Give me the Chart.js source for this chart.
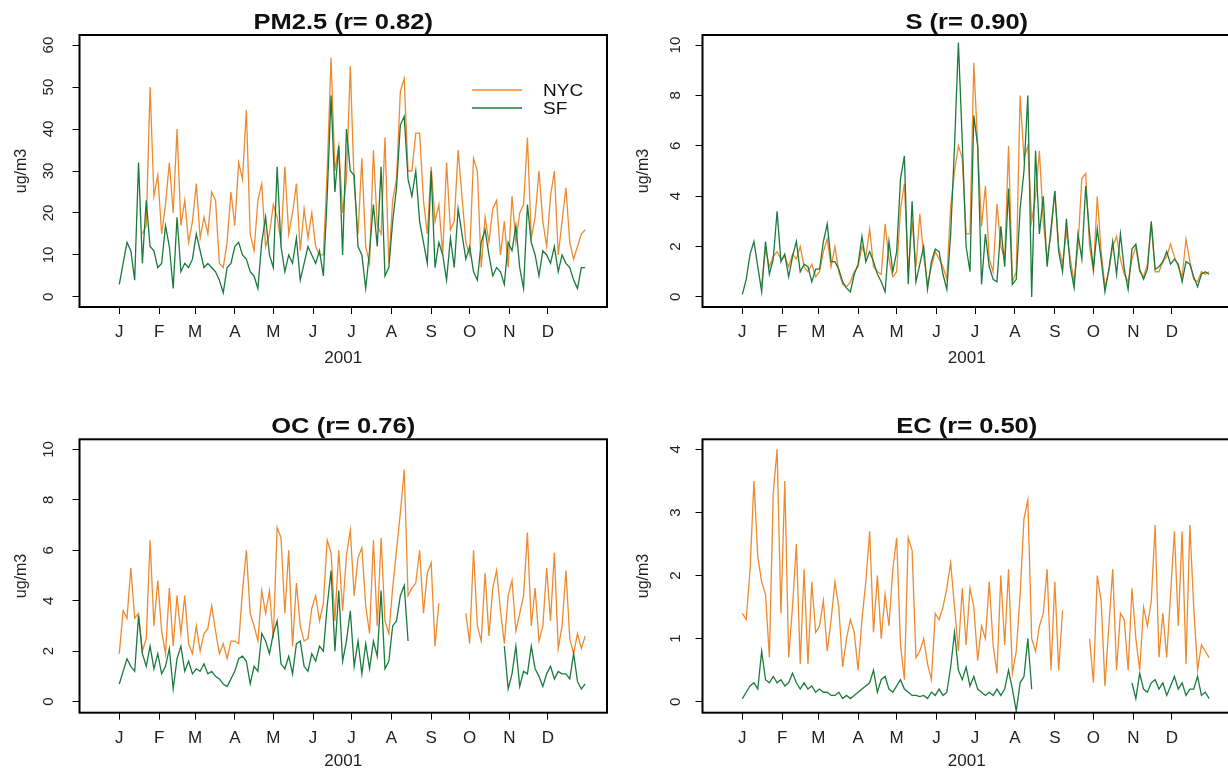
<!DOCTYPE html>
<html>
<head>
<meta charset="utf-8">
<title>NYC vs SF daily concentrations, 2001</title>
<script src="https://cdn.jsdelivr.net/npm/chart.js@4.4.1/dist/chart.umd.min.js"></script>
<style>
  html, body { margin: 0; padding: 0; background: #fff; overflow: hidden; }
  body { width: 1228px; height: 772px; position: relative; }
  canvas { position: absolute; }
</style>
</head>
<body>
<canvas id="pmChart" width="614" height="386" style="left:0;top:0"></canvas>
<canvas id="sChart" width="620" height="386" style="left:614px;top:0"></canvas>
<canvas id="ocChart" width="614" height="386" style="left:0;top:386px"></canvas>
<canvas id="ecChart" width="620" height="386" style="left:614px;top:386px"></canvas>
<script>
// month axis
const monthStarts = [0, 31, 59, 90, 120, 151, 181, 212, 243, 273, 304, 334];
const monthLetters = ['J', 'F', 'M', 'A', 'M', 'J', 'J', 'A', 'S', 'O', 'N', 'D'];

// values every 3rd day of 2001 (day 0, 3, 6 ... 363), ug/m3
const pm25Nyc = [
  null, null, null, null, null, null, 15, 17, 50, 24, 29,
  15, 22, 32, 20, 40, 17, 23, 13, 18,
  27, 14, 19, 15, 25, 23, 8, 7, 13, 25,
  17, 32, 28, 44.5, 15, 11, 23, 27, 12, 15,
  22, 19, 13, 31, 15, 20, 27, 11, 21, 14, 20,
  12, 10, 10, 30, 57, 30, 36, 20, 28, 55,
  27, 15, 33, 12, 8, 35, 17, 15, 38, 8,
  23, 28, 49, 52, 30, 30, 39, 39, 23, 15,
  31, 18, 22, 10, 32, 16, 18, 35, 24, 13,
  10, 33, 30, 7, 19, 13, 21, 23, 10, 18, 7,
  24, 13, 20, 22, 38, 14, 19, 30, 18, 12,
  24, 30, 10, 18, 26, 13, 9, 12, 15, 16
];
const pm25Sf = [
  3, 8, 13, 11, 4, 32, 8, 23, 12, 11, 7,
  8, 17, 12, 2, 19, 6, 8, 7, 9,
  15, 11, 7, 8, 7, 6, 4, 1, 7, 8,
  12, 13, 10, 9, 6, 5, 2, 13, 19, 10,
  7, 31, 12, 6, 10, 8, 14, 4, 8, 12, 10,
  8, 11, 5, 24, 48, 25, 36, 10, 40, 30,
  29, 12, 10, 2, 11, 22, 12, 31, 5, 7,
  18, 26, 41, 43, 28, 24, 30, 18, 13, 8,
  30, 7, 13, 10, 4, 14, 7, 21, 15, 9,
  12, 6, 4, 13, 16, 10, 5, 7, 6, 3, 13,
  11, 17, 7, 2, 22, 13, 10, 5, 11, 10,
  8, 12, 6, 10, 8, 7, 4, 2, 7, 7
];
const sNyc = [
  null, null, null, null, null, 0.5, 1.9, 1.2, 1.6, 1.8, 1.5,
  1.6, 1.2, 1.7, 1.5, 2.0, 1.2, 1.0, 1.3, 0.8,
  1.0, 1.8, 2.3, 1.2, 2.0, 1.0, 0.5, 0.4, 0.6, 1.0,
  1.2, 2.0, 1.6, 2.7, 1.2, 1.0, 0.9, 2.9, 1.5, 0.8,
  1.0, 3.5, 4.5, 1.0, 3.0, 1.2, 3.3, 1.6, 0.5, 1.2, 1.8,
  1.5, 1.2, 0.7, 3.6, 5.0, 6.0, 5.5, 2.5, 2.5, 9.3,
  6.0, 2.8, 4.4, 1.5, 1.0, 3.7, 2.0, 1.5, 6.0, 0.6,
  1.0, 8.0, 5.5, 6.0, 3.0, 4.0, 5.8, 3.0, 1.5, 2.5,
  4.2, 2.0, 1.3, 2.6, 1.5, 0.6, 2.0, 4.7, 4.9, 2.0,
  1.0, 4.0, 1.8, 0.4, 1.0, 2.0, 2.4, 1.5, 0.9, 0.6, 1.5,
  2.0, 1.0, 0.8, 1.3, 2.9, 1.0, 1.0, 1.4, 1.6, 2.1,
  1.6, 1.2, 0.8, 2.3, 1.4, 0.7, 0.6, 1.0, 0.9, 1.0
];
const sSf = [
  0.1, 0.7, 1.7, 2.2, 1.2, 0.2, 2.2, 0.9, 1.5, 3.4, 1.4,
  1.7, 0.8, 1.6, 2.2, 1.0, 1.3, 1.2, 0.6, 1.1,
  1.1, 2.2, 2.9, 1.4, 1.4, 1.1, 0.6, 0.35, 0.2, 0.9,
  1.3, 2.4, 1.4, 1.8, 1.4, 0.9, 0.6, 0.2, 2.2, 1.0,
  1.8, 4.7, 5.6, 0.5, 3.8, 0.6, 1.3, 2.0, 0.3, 1.4, 1.9,
  1.8, 0.9, 0.3, 2.5, 6.0, 10.1, 6.2, 2.0, 1.0, 7.2,
  6.0, 0.5, 2.5, 1.2, 0.7, 0.6, 2.8, 1.2, 4.3, 0.5,
  0.7, 3.5, 5.0, 8.0, 0.0, 5.8, 2.5, 4.0, 1.2, 2.7,
  4.2, 1.8, 1.0, 3.1, 1.2, 0.35, 2.5, 1.5, 4.4, 2.5,
  1.1, 2.7, 1.5, 0.2, 1.1, 2.2, 0.9, 2.5, 1.1, 0.3, 1.9,
  2.1, 1.1, 0.7, 1.1, 3.0, 1.1, 1.2, 1.4, 1.8, 1.3,
  1.5, 1.3, 0.6, 1.4, 1.3, 0.8, 0.4, 0.9, 1.0, 0.9
];
const ocNyc = [
  1.9, 3.6, 3.3, 5.3, 3.3, 3.5, 2.0, 2.5, 6.4, 3.0, 4.8,
  2.8, 1.9, 4.5, 2.2, 4.2, 2.7, 4.2, 2.3, 1.9,
  3.0, 2.0, 2.7, 2.9, 3.8, 2.8, 1.9, 2.3, 1.7, 2.4,
  2.4, 2.3, 4.4, 6.0, 3.5, 3.0, 2.4, 4.4, 3.5, 4.4,
  2.5, 6.9, 6.5, 3.5, 6.0, 2.2, 4.7, 3.0, 2.4, 2.5, 3.7,
  4.2, 3.2, 3.9, 6.4, 5.9, 3.2, 6.0, 3.6, 5.8, 6.8,
  4.2, 5.7, 6.1, 3.8, 2.7, 6.4, 3.0, 6.5, 3.2, 2.7,
  4.5, 6.0, 7.5, 9.2, 4.2, 4.5, 4.7, 6.0, 3.5, 5.1,
  5.5, 2.2, 3.9, null, null, null, null, null, null, 3.5,
  2.3, 6.0, 3.0, 2.4, 5.1, 2.6, 4.5, 5.2, 3.6, 2.3, 4.2,
  4.8, 2.8, 3.5, 4.2, 6.7, 3.0, 4.5, 2.4, 3.0, 5.3,
  3.2, 5.9, 2.1, 3.0, 5.2, 2.5, 1.9, 2.7, 2.1, 2.6
];
const ocSf = [
  0.7, 1.2, 1.7, 1.4, 1.2, 3.4, 1.9, 1.4, 2.2, 1.3, 1.9,
  1.1, 1.4, 2.1, 0.5, 1.7, 2.2, 1.2, 1.6, 1.1,
  1.3, 1.2, 1.5, 1.1, 1.2, 1.0, 0.9, 0.7, 0.6, 0.9,
  1.2, 1.7, 1.8, 1.6, 0.7, 1.4, 1.2, 2.7, 2.4, 1.9,
  2.7, 3.2, 1.5, 1.3, 1.8, 1.1, 2.3, 2.4, 1.4, 1.2, 1.9,
  1.6, 2.2, 2.0, 3.8, 5.2, 2.0, 4.4, 1.6, 2.4, 3.6,
  1.4, 2.4, 1.1, 2.3, 1.3, 2.4, 1.8, 4.4, 1.3, 1.6,
  3.0, 3.2, 4.2, 4.6, 2.4, null, null, null, null, null,
  null, null, null, null, null, null, null, null, null, null,
  null, null, null, null, null, null, null, null, null, 2.2, 0.5,
  1.1, 2.2, 0.6, 1.2, 1.1, 2.2, 1.3, 1.0, 0.6, 1.1,
  1.4, 0.9, 1.2, 1.1, 1.1, 0.9, 1.9, 0.8, 0.5, 0.7, 0.7
];
const ecNyc = [
  1.4, 1.3, 2.1, 3.5, 2.3, 1.9, 1.7, 0.7, 3.3, 4.0, 1.4,
  3.5, 0.7, 1.5, 2.5, 0.6, 2.1, 0.6, 1.9, 1.1,
  1.2, 1.6, 0.8, 1.3, 1.9, 1.5, 0.55, 1.0, 1.3, 1.1,
  0.5, 1.3, 1.9, 2.7, 1.1, 2.0, 1.0, 1.7, 1.2, 2.1,
  2.6, 0.9, 0.35, 2.6, 2.4, 0.7, 0.8, 1.0, 0.6, 0.35, 1.4,
  1.3, 1.5, 1.8, 2.2, 1.5, 0.8, 1.8, 0.9, 1.8, 1.5,
  0.65, 1.2, 1.0, 1.9, 0.9, 0.45, 2.0, 0.9, 2.1, 0.45,
  0.8, 1.7, 2.9, 3.2, 1.0, 0.8, 1.2, 1.4, 2.1, 0.5,
  1.9, 0.5, 1.45, null, null, null, null, null, null, 1.0,
  0.3, 2.0, 1.6, 0.25, 1.2, 2.1, 0.5, 1.4, 1.3, 0.5, 1.8,
  1.0, 0.5, 1.5, 1.2, 1.6, 2.8, 0.7, 1.4, 0.7, 1.7,
  2.7, 1.2, 2.7, 0.6, 2.8, 1.5, 0.5, 0.9, 0.8, 0.7
];
const ecSf = [
  0.05, 0.15, 0.25, 0.3, 0.2, 0.8, 0.35, 0.3, 0.4, 0.3, 0.35,
  0.25, 0.3, 0.45, 0.3, 0.2, 0.3, 0.2, 0.25, 0.15,
  0.2, 0.15, 0.15, 0.1, 0.1, 0.15, 0.05, 0.1, 0.05, 0.1,
  0.15, 0.2, 0.25, 0.3, 0.5, 0.15, 0.35, 0.4, 0.2, 0.15,
  0.25, 0.35, 0.2, 0.15, 0.1, 0.1, 0.08, 0.1, 0.05, 0.15, 0.1,
  0.2, 0.1, 0.15, 0.55, 1.1, 0.5, 0.35, 0.55, 0.25, 0.4,
  0.2, 0.15, 0.1, 0.15, 0.1, 0.2, 0.1, 0.2, 0.5, 0.2,
  -0.15, 0.3, 0.4, 1.0, 0.2, null, null, null, null, null,
  null, null, null, null, null, null, null, null, null, null,
  null, null, null, null, null, null, null, null, null, null, 0.3,
  0.05, 0.45, 0.2, 0.15, 0.3, 0.35, 0.2, 0.3, 0.1, 0.25, 0.4,
  0.2, 0.3, 0.1, 0.2, 0.2, 0.4, 0.1, 0.15, 0.05, 0.05
];
const days = pm25Nyc.map((_, i) => i * 3);

const pmTicks = [0, 10, 20, 30, 40, 50, 60];
const sTicks = [0, 2, 4, 6, 8, 10];
const ocTicks = [0, 2, 4, 6, 8, 10];
const ecTicks = [0, 1, 2, 3, 4];

const NYC_COLOR = '#EF8A2F';
const SF_COLOR = '#1B7A3D';
const FONT = '"Liberation Sans", Arial, sans-serif';

// R-style box, stretched bold title, in-plot legend
function stretchedText(ctx, text, x, y, font, align, sx) {
  ctx.save();
  ctx.font = font;
  ctx.textAlign = align;
  ctx.textBaseline = 'alphabetic';
  ctx.fillStyle = '#111';
  ctx.translate(x, y);
  ctx.scale(sx, 1);
  ctx.fillText(text, 0, 0);
  ctx.restore();
}

const panelDecor = {
  id: 'panelDecor',
  afterDatasetsDraw(chart, args, opts) {
    const { ctx, chartArea: a } = chart;
    ctx.save();
    ctx.strokeStyle = '#000';
    ctx.lineWidth = 2;
    ctx.strokeRect(a.left, a.top, a.right - a.left, a.bottom - a.top);
    ctx.restore();

    stretchedText(ctx, opts.title, (a.left + a.right) / 2, a.top - 6, 'bold 22px ' + FONT, 'center', 1.16);

    if (opts.legend) {
      chart.data.datasets.forEach((ds, i) => {
        const y = 90 + i * 18;
        ctx.save();
        ctx.strokeStyle = ds.borderColor;
        ctx.lineWidth = 1.3;
        ctx.beginPath();
        ctx.moveTo(472, y);
        ctx.lineTo(522, y);
        ctx.stroke();
        ctx.restore();
        stretchedText(ctx, ds.label, 543, y + 6, '17px ' + FONT, 'left', 1.12);
      });
    }
  }
};

function points(arr) {
  return days.map((d, i) => ({ x: d, y: arr[i] }));
}

function drawPanel(id, p) {
  const canvas = document.getElementById(id);
  const w = canvas.width, h = canvas.height;
  return new Chart(canvas.getContext('2d'), {
    type: 'line',
    data: {
      datasets: [
        { label: 'NYC', data: points(p.nyc), borderColor: NYC_COLOR, borderWidth: 1.3, pointRadius: 0, spanGaps: false, order: 1 },
        { label: 'SF', data: points(p.sf), borderColor: SF_COLOR, borderWidth: 1.3, pointRadius: 0, spanGaps: false, order: 0 }
      ]
    },
    options: {
      responsive: false,
      animation: false,
      events: [],
      layout: { padding: { left: 0, top: p.area[1], right: w - p.area[2], bottom: 0 } },
      plugins: {
        legend: { display: false },
        tooltip: { enabled: false },
        panelDecor: { title: p.title, legend: p.legend }
      },
      scales: {
        x: {
          type: 'linear',
          min: -31,
          max: 380,
          afterBuildTicks: s => { s.ticks = monthStarts.map(v => ({ value: v })); },
          afterFit: s => { s.height = h - p.area[3]; },
          ticks: {
            autoSkip: false, maxRotation: 0, padding: 8, color: '#222',
            font: { family: FONT, size: 17 },
            callback: (v, i) => monthLetters[i]
          },
          grid: { drawOnChartArea: false, tickLength: 7, color: '#000', lineWidth: 1 },
          border: { display: false },
          title: { display: true, text: '2001', color: '#222', font: { family: FONT, size: 17 }, padding: { top: 0, bottom: p.xTitlePad } }
        },
        y: {
          min: p.yMin,
          max: p.yMax,
          afterBuildTicks: s => { s.ticks = p.yTicks.map(v => ({ value: v })); },
          afterFit: s => { s.width = p.area[0]; },
          ticks: {
            minRotation: 90, maxRotation: 90, crossAlign: 'center', padding: p.yPad,
            color: '#222', font: { family: FONT, size: 15 }
          },
          grid: { drawOnChartArea: false, tickLength: 7, color: '#000', lineWidth: 1 },
          border: { display: false },
          title: { display: true, text: 'ug/m3', color: '#222', font: { family: FONT, size: 16 }, padding: { top: p.yTitlePad, bottom: 0 } }
        }
      }
    },
    plugins: [panelDecor]
  });
}

drawPanel('pmChart', {
  title: 'PM2.5 (r= 0.82)', nyc: pm25Nyc, sf: pm25Sf, legend: true,
  yTicks: pmTicks, yMin: -2.4, yMax: 62.4,
  area: [79.5, 35, 607, 307], yPad: 15, yTitlePad: 12.4, xTitlePad: 17.8
});
drawPanel('sChart', {
  title: 'S (r= 0.90)', nyc: sNyc, sf: sSf, legend: false,
  yTicks: sTicks, yMin: -0.4, yMax: 10.4,
  area: [88.5, 35, 617, 307], yPad: 11, yTitlePad: 20.4, xTitlePad: 17.8
});
drawPanel('ocChart', {
  title: 'OC (r= 0.76)', nyc: ocNyc, sf: ocSf, legend: false,
  yTicks: ocTicks, yMin: -0.44, yMax: 10.4,
  area: [79.5, 53.3, 607, 326.7], yPad: 15, yTitlePad: 12.4, xTitlePad: 0
});
drawPanel('ecChart', {
  title: 'EC (r= 0.50)', nyc: ecNyc, sf: ecSf, legend: false,
  yTicks: ecTicks, yMin: -0.174, yMax: 4.16,
  area: [88.5, 53.3, 617, 326.7], yPad: 15.3, yTitlePad: 20.4, xTitlePad: 0
});
</script>
</body>
</html>
